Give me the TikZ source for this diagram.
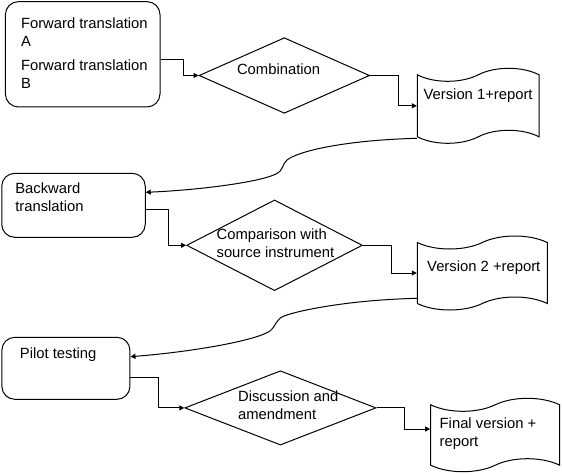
\documentclass[tikz,border=0pt]{standalone}
\usepackage{fontspec}
\setmainfont{Liberation Sans}
\usetikzlibrary{shapes.geometric,shapes.symbols,arrows.meta}

\begin{document}
\begin{tikzpicture}[x=1pt,y=-1pt,
  box/.style={draw,rounded corners=13pt,line width=1pt},
  decision/.style={draw,diamond,inner sep=0pt,line width=1pt},
  doc/.style={draw,tape,tape bend top=in and out,tape bend bottom=in and out,tape bend height=13pt,inner sep=0pt,line width=1pt},
  txt/.style={anchor=west,align=left,inner sep=0pt,font=\fontsize{14.8}{18}\selectfont},
  arr/.style={-{Triangle[length=5pt,width=5pt]},line width=1pt}]
\useasboundingbox (0,0) rectangle (562,474);

\node[box,minimum width=154.6pt,minimum height=105.3pt] (fwd) at (82.7,54.3) {};
\node[txt] (fwd-t) at (20.8,53) {Forward translation\\A\\[6pt]Forward translation\\B};
\node[decision,minimum width=170.5pt,minimum height=75.6pt] (comb) at (284.3,75.5) {};
\node[txt,anchor=center] (comb-t) at (278.6,69) {Combination};
\node[doc,minimum width=121.7pt,minimum height=75pt] (ver1) at (478.2,105.8) {};
\node[txt] (ver1-t) at (423.4,95.7) {Version 1+report};

\node[box,minimum width=143.5pt,minimum height=64pt] (back) at (73.5,205.3) {};
\node[txt] (back-t) at (15.1,197.2) {Backward\\translation};
\node[decision,minimum width=175.8pt,minimum height=90.7pt] (comp) at (274.5,245.3) {};
\node[txt] (comp-t) at (216.4,243) {Comparison with\\source instrument};
\node[doc,minimum width=130pt,minimum height=74pt] (ver2) at (482.3,273) {};
\node[txt] (ver2-t) at (427,267.3) {Version 2 +report};

\node[box,minimum width=128.1pt,minimum height=62pt] (pilot) at (65.9,368.3) {};
\node[txt] (pilot-t) at (19.7,354.3) {Pilot testing};
\node[decision,minimum width=191.2pt,minimum height=74.3pt] (disc) at (280.4,407.9) {};
\node[txt] (disc-t) at (237.9,405) {Discussion and\\amendment};
\node[doc,minimum width=129pt,minimum height=73.4pt] (final) at (495.2,435) {};
\node[txt] (final-t) at (439.5,433.7) {Final version +\\report};

\draw[arr] ([yshift=-5pt]fwd.east) -- ++(22.7,0) |- (comb.west);
\draw[arr] (comb.east) -- ++(28.7,0) |- (ver1.west);
\draw[arr] ([yshift=-32.5pt]ver1.west) .. controls (350,140) and (300,150) .. (287,160)
  .. controls (282,164) and (284,170) .. (276,174)
  .. controls (260,182) and (200,190) .. ([yshift=13pt]back.east);

\draw[arr] ([yshift=-4pt]back.east) -- ++(23,0) |- (comp.west);
\draw[arr] (comp.east) -- ++(28.7,0) |- (ver2.west);
\draw[arr] ([yshift=-25.3pt]ver2.west) .. controls (350,300) and (300,310) .. (284,316)
  .. controls (276,319) and (276,326) .. (270,331)
  .. controls (255,341) and (190,352) .. ([yshift=11.6pt]pilot.east);

\draw[arr] ([yshift=-9.4pt]pilot.east) -- ++(28,0) |- (disc.west);
\draw[arr] (disc.east) -- ++(28.4,0) |- ([yshift=6pt]final.west);

\end{tikzpicture}
\end{document}
